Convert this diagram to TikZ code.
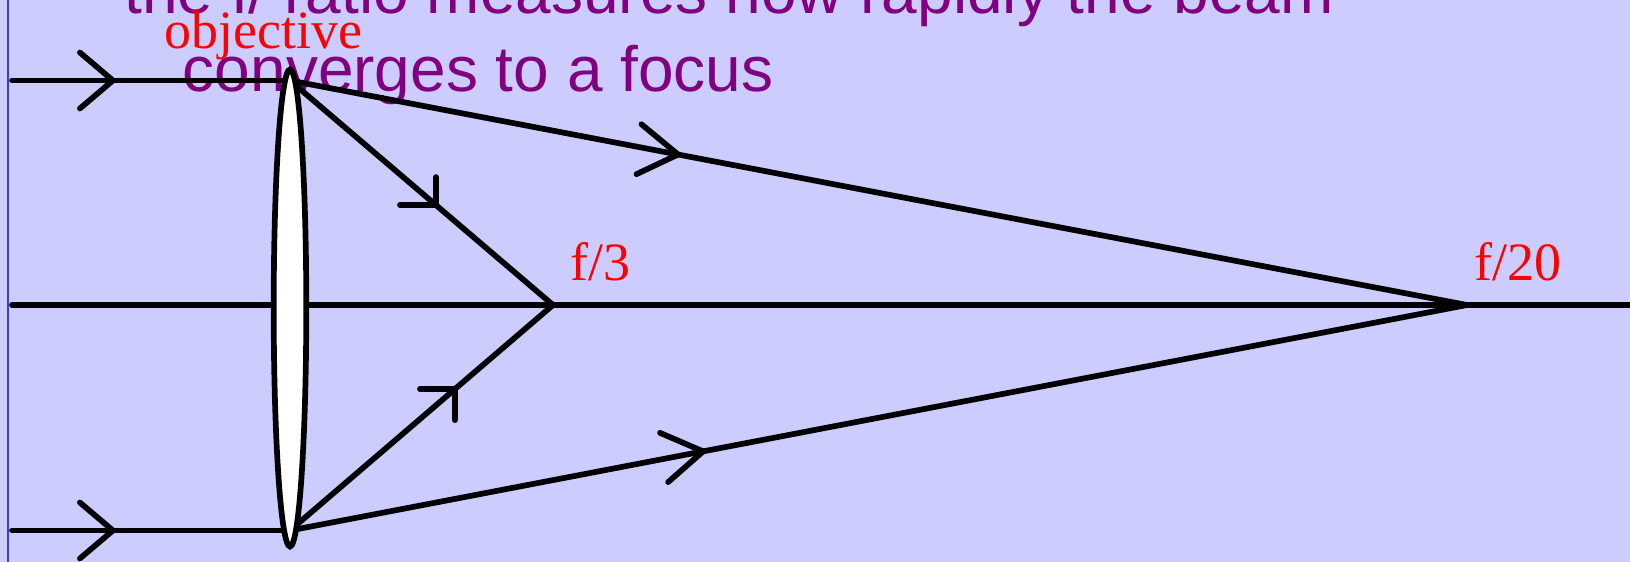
\documentclass[tikz,border=0pt]{standalone}
\usepackage{fontspec}
\setmainfont{Liberation Serif}
\newfontfamily\captsans{Liberation Sans}
\usetikzlibrary{shapes.geometric}
\definecolor{bgblue}{RGB}{204,204,255}
\definecolor{edgeblue}{RGB}{60,60,210}
\definecolor{captpurple}{RGB}{128,0,128}
\tikzset{
  ray/.style={draw=black, line width=2.85pt, line cap=round, line join=round},
  barb/.style={draw=black, line width=2.85pt, line cap=round, line join=round},
  lensshape/.style={ellipse, draw=black, fill=white, line width=2.85pt, inner sep=0pt,
    minimum width=16.3pt, minimum height=238.5pt},
  captext/.style={text=captpurple, font=\captsans\fontsize{32pt}{38pt}\selectfont, inner sep=0pt, anchor=base west},
  redlabel/.style={text=red, font=\fontsize{27pt}{31pt}\selectfont, inner sep=0pt, anchor=base west}
}
\begin{document}
\begin{tikzpicture}[x=0.5pt,y=0.5pt]
\useasboundingbox (0,0) rectangle (1630,-562);
\fill[bgblue] (0,0) rectangle (1630,-562);
\draw[edgeblue, line width=1pt] (8,0) -- (8,-562);

% texts
\node[captext] (cap1) at (124,-13.5) {the f/ ratio measures how rapidly the beam};
\node[captext] (cap2) at (182.5,-91.5) {converges to a focus};
\node[redlabel] (objlabel) at (164.5,-48.3) {objective};
\node[redlabel] (f3label) at (570.5,-280.7) {f/3};
\node[redlabel] (f20label) at (1474,-280.7) {f/20};

% points
\coordinate (srcT) at (12,-80.5);
\coordinate (lensT) at (290,-80.5);
\coordinate (srcB) at (12,-530.5);
\coordinate (lensB) at (290,-530.5);
\coordinate (axL) at (12,-305);
\coordinate (axR) at (1630,-305);
\coordinate (F3) at (553,-305);
\coordinate (F20) at (1467,-305);

% rays
\draw[ray] (srcT) -- (lensT);
\draw[ray] (srcB) -- (lensB);
\draw[ray] (axL) -- (axR);
\draw[ray] (lensT) -- (F3);
\draw[ray] (lensB) -- (F3);
\draw[ray] (lensT) -- (F20);
\draw[ray] (lensB) -- (F20);

% lens
\node[lensshape] (lens) at (290,-308) {};

% arrow positions
\path (srcT) -- (lensT) coordinate[pos=0.363] (aT);
\path (srcB) -- (lensB) coordinate[pos=0.363] (aB);
\path (lensT) -- (F3) coordinate[pos=0.555] (a3T);
\path (lensB) -- (F3) coordinate[pos=0.627] (a3B);
\path (lensT) -- (F20) coordinate[pos=0.3297] (a20T);
\path (lensB) -- (F20) coordinate[pos=0.351] (a20B);

% arrow barbs
\draw[barb] ([shift={(139.7:43.3)}]aT) -- (aT) -- ([shift={(220.3:43.3)}]aT);
\draw[barb] ([shift={(139.7:43.3)}]aB) -- (aB) -- ([shift={(220.3:43.3)}]aB);
\draw[barb] ([shift={(90:28)}]a3T) -- (a3T) -- ([shift={(180:36)}]a3T);
\draw[barb] ([shift={(180:35)}]a3B) -- (a3B) -- ([shift={(270:31)}]a3B);
\draw[barb] ([shift={(140.4:47.5)}]a20T) -- (a20T) -- ([shift={(205.3:46)}]a20T);
\draw[barb] ([shift={(156.8:47)}]a20B) -- (a20B) -- ([shift={(221.3:46.6)}]a20B);
\end{tikzpicture}
\end{document}
